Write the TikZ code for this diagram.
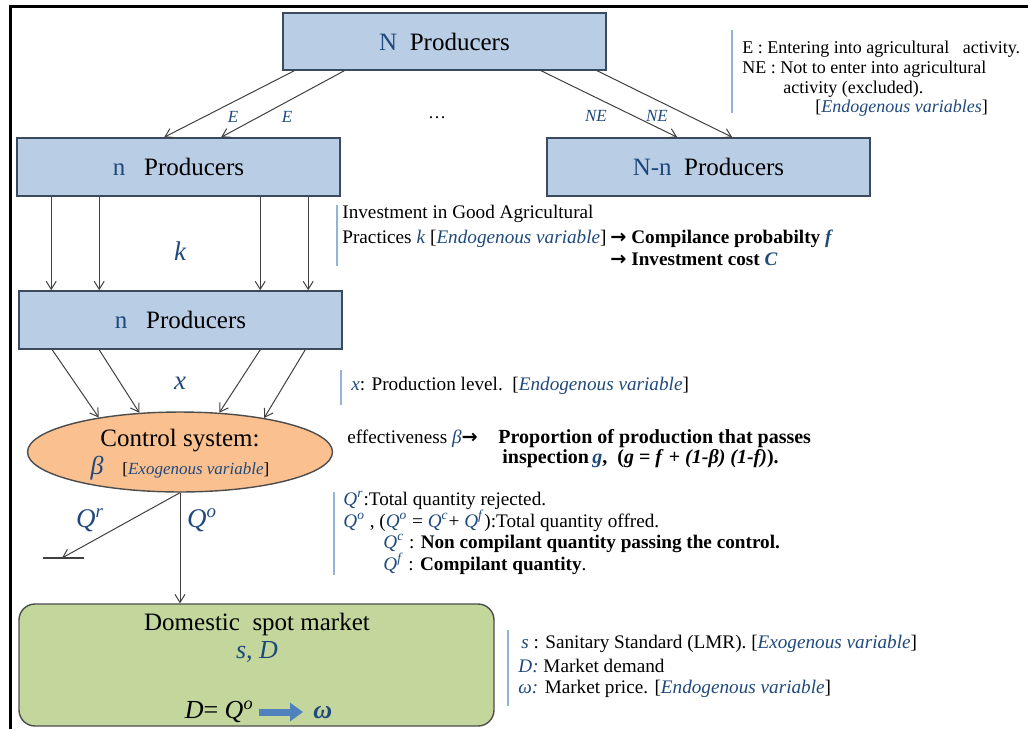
\documentclass[tikz,border=0pt]{standalone}
\usepackage{fontspec}
\setmainfont{Liberation Serif}
\newfontfamily\arrowfont{DejaVu Sans}
\definecolor{boxblue}{HTML}{B9CDE5}
\definecolor{boxline}{HTML}{3C4A5E}
\definecolor{ctrlorange}{HTML}{FAC08F}
\definecolor{mktgreen}{HTML}{C3D69B}
\definecolor{varblue}{HTML}{1F497D}
\definecolor{rulelight}{HTML}{95B3D7}
\definecolor{fatblue}{HTML}{4F81BD}
\usetikzlibrary{shapes.geometric,arrows.meta,positioning,calc}
\newcommand{\vb}[1]{\textcolor{varblue}{\textit{#1}}}
\newcommand{\qv}[1]{\textcolor{varblue}{\textit{Q}\textsuperscript{\textit{#1}}}}
\newcommand{\boldarr}{{\arrowfont\bfseries →}}

\begin{document}
\begin{tikzpicture}[x=0.5pt,y=-0.5pt,
    prodbox/.style={draw=boxline,line width=0.8pt,fill=boxblue,minimum width=161.5pt,
        minimum height=28.5pt,inner sep=0pt,font=\fontsize{12.5}{15}\selectfont},
    conn/.style={draw=black!75,line width=0.5pt,-{Straight Barb[length=4pt,width=5pt]}},
    lbl/.style={font=\fontsize{8.5}{10}\selectfont\itshape,text=varblue},
    biglbl/.style={font=\fontsize{13.5}{16}\selectfont\itshape,text=varblue},
    legend/.style={anchor=base west,inner sep=0pt,font=\fontsize{9.6}{12}\selectfont},
    legrule/.style={draw=rulelight,line width=0.7pt}]
    \useasboundingbox (0,0) rectangle (1028,729);
    % frame
    \draw[line width=1.5pt] (1028,6) -- (10,6) -- (10,729);
    % producers
    \node[prodbox] (Ntop) at (444.5,41.5) {\textcolor{varblue}{N}\ \ Producers};
    \node[prodbox,minimum height=29pt] (nA) at (178.5,167) {\textcolor{varblue}{n}\ \ \ Producers};
    \node[prodbox,minimum height=29pt] (Nn) at (708.5,167) {\textcolor{varblue}{N-n}\ \ Producers};
    \node[prodbox,minimum height=29pt] (nB) at (180.5,320) {\textcolor{varblue}{n}\ \ \ Producers};
    % control system
    \node[ellipse,draw=black!70,line width=0.7pt,fill=ctrlorange,minimum width=152.5pt,
        minimum height=39pt,inner sep=0pt,align=center,font=\fontsize{12.5}{14}\selectfont]
        (ctrl) at (180,452) {\rule{0pt}{11.5pt}Control system:\\{\fontsize{13}{15}\selectfont\vb{β}}\ \ \
        {\fontsize{8.5}{10}\selectfont[\vb{Exogenous variable}]}};
    % market
    \node[draw=black!70,line width=0.7pt,fill=mktgreen,rounded corners=8pt,
        minimum width=237.5pt,minimum height=61pt] (mkt) at (256.5,665) {};
    \node[anchor=base,font=\fontsize{12.5}{15}\selectfont] (mkttitle) at (257,630) {Domestic\ \ spot market};
    \node[anchor=base,font=\fontsize{13}{15}\selectfont] (mktvars) at (257,658) {\vb{s, D}};
    \node[anchor=base east,inner sep=1pt,font=\fontsize{13}{15}\selectfont] (eqlhs) at (256,718)
        {\textit{D}= \textit{Q}\textsuperscript{\textit{o}}};
    \node[anchor=base west,inner sep=1pt,font=\fontsize{13}{15}\selectfont] (eqw) at (311,718)
        {\textcolor{varblue}{\textbf{\textit{ω}}}};
    \draw[fatblue,line width=3.5pt,-{Triangle[length=6.5pt,width=9pt]}]
        ($(eqlhs.base east)+(3,-6)$) -- ($(eqw.base west)+(-8,-6)$);
    % entry choices
    \draw[conn] ($(Ntop.south west)+(12,0)$) -- ($(nA.north west)+(148,0)$);
    \draw[conn] ($(Ntop.south west)+(62,0)$) -- ($(nA.north west)+(205,0)$);
    \draw[conn] ($(Ntop.south west)+(259,0)$) -- ($(Nn.north west)+(131,0)$);
    \draw[conn] ($(Ntop.south west)+(315,0)$) -- ($(Nn.north west)+(186,0)$);
    \node[lbl] (lblE1) at (233,117) {E};
    \node[lbl] (lblE2) at (287,117) {E};
    \node[font=\fontsize{9}{11}\selectfont] (dots) at (437,118) {\dots};
    \node[lbl] (lblNE1) at (596,116) {NE};
    \node[lbl] (lblNE2) at (657,116) {NE};
    % investment and production
    \foreach \dx in {35,83,244,292}
        \draw[conn] ($(nA.south west)+(\dx,0)$) -- ($(nB.north west)+(\dx-2,0)$);
    \node[biglbl] (lblk) at (180,251) {k};
    \foreach \dx/\ang in {34/157,81/136,242/45,287/22}
        \draw[conn] ($(nB.south west)+(\dx,0)$) -- (ctrl.\ang);
    \node[biglbl] (lblx) at (180,383) {x};
    % offered and rejected quantities
    \coordinate (rej) at (62,558);
    \draw[conn] (ctrl.south) -- (rej);
    \draw[black!75,line width=0.6pt] ($(rej)+(-19,0)$) -- ($(rej)+(22,0)$);
    \draw[conn] (ctrl.south) -- (ctrl.south |- mkt.north);
    \node[biglbl] (lblQr) at (90,520) {\qv{r}};
    \node[biglbl] (lblQo) at (202,520) {\qv{o}};
    % legends
    \draw[legrule] (732,30) -- (732,113);
    \node[legend,font=\fontsize{9}{11}\selectfont] (legE) at (742,53) {E : Entering into agricultural\ \ \ activity.};
    \node[legend,font=\fontsize{9}{11}\selectfont] (legNE) at (742,73) {NE : Not to enter into agricultural};
    \node[legend,font=\fontsize{9}{11}\selectfont] (legNEb) at (783,93) {activity (excluded).};
    \node[legend,font=\fontsize{9}{11}\selectfont] (legNEc) at (815,112) {[\vb{Endogenous variables}]};
    \draw[legrule] (337,205) -- (337,266);
    \node[legend] (legk1) at (342,218) {Investment in Good Agricultural};
    \node[legend] (legk2) at (342,243) {Practices \vb{k} [\vb{Endogenous variable}]};
    \node[legend] (legk3) at ($(legk2.base east)+(3,0)$) {\boldarr\ \textbf{Compilance probabilty} \textcolor{varblue}{\textbf{\textit{f}}}};
    \node[legend] (legk4) at ($(legk3.base west)+(0,22)$) {\boldarr\ \textbf{Investment cost} \textcolor{varblue}{\textbf{\textit{C}}}};
    \draw[legrule] (341,370) -- (341,405);
    \node[legend] (legx) at (351,390) {\vb{x}: Production level.\ \ [\vb{Endogenous variable}]};
    \node[legend] (legb1) at (347,443) {effectiveness \vb{β}\boldarr};
    \node[legend,font=\fontsize{10}{12}\selectfont\bfseries] (legb2) at (498,443) {Proportion of production that passes};
    \node[legend,font=\fontsize{10}{12}\selectfont\bfseries] (legb3) at (502,463)
        {inspection\,\textcolor{varblue}{\textit{g}},\ \ (\textit{g} = \textit{f} + \textit{(1-β) (1-f)}).};
    \draw[legrule] (334,492) -- (334,575);
    \node[legend] (legq1) at (343,505) {\qv{r}:Total quantity rejected.};
    \node[legend] (legq2) at (343,527) {\qv{o} , (\qv{o} = \qv{c}+ \qv{f}):Total quantity offred.};
    \node[legend] (legq3) at (383,548) {\qv{c} : \textbf{Non compilant quantity passing the control.}};
    \node[legend] (legq4) at (383,570) {\qv{f} : \textbf{Compilant quantity}.};
    \draw[legrule] (508,630) -- (508,706);
    \node[legend] (legs) at (521,648) {\vb{s} : Sanitary\ Standard (LMR). [\vb{Exogenous variable}]};
    \node[legend] (legD) at (518,672) {\vb{D:} Market\ demand};
    \node[legend] (legw) at (518,693) {\vb{ω:} Market\ price. [\vb{Endogenous variable}]};
\end{tikzpicture}
\end{document}
